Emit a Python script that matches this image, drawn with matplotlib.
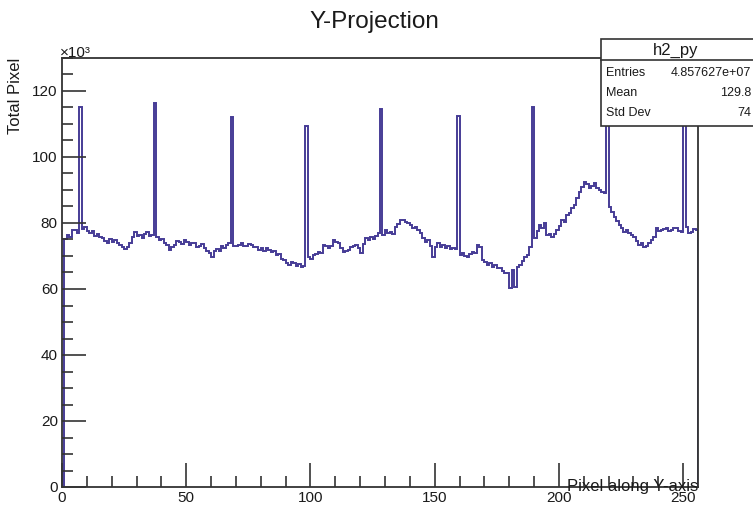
import numpy as np
import matplotlib
matplotlib.use("Agg")
import matplotlib.pyplot as plt
from matplotlib.patches import Rectangle
from matplotlib.ticker import MultipleLocator

plt.rcParams['font.family'] = ['Liberation Sans', 'DejaVu Sans']

# Y-projection of h2 (counts in units of 10^3), one value per pixel row
counts_k = [
    0.0, 75.0, 76.4, 75.8, 77.8, 78.0, 77.0, 115.0, 78.2, 78.7, 77.6, 77.0, 77.5, 76.2, 76.8, 75.7,
    75.4, 74.6, 74.0, 75.0, 74.3, 74.8, 73.9, 73.2, 72.6, 72.1, 72.7, 74.0, 75.8, 77.4, 76.2, 76.4,
    75.6, 76.8, 77.3, 76.1, 76.4, 116.5, 75.9, 74.8, 75.2, 73.9, 73.2, 71.8, 72.6, 73.3, 74.5, 74.3,
    73.6, 74.8, 74.1, 73.3, 73.9, 73.9, 72.8, 72.9, 73.5, 72.3, 71.6, 70.8, 69.8, 71.4, 72.0, 71.6,
    72.9, 72.4, 73.3, 73.8, 112.0, 73.0, 72.9, 73.4, 73.9, 73.1, 72.9, 73.6, 73.3, 72.6, 72.8, 71.8,
    72.3, 71.6, 72.4, 71.8, 71.1, 71.4, 70.3, 70.6, 69.2, 68.8, 67.9, 67.3, 68.2, 67.8, 67.1, 67.6,
    66.8, 66.9, 109.5, 69.8, 69.2, 70.3, 70.6, 71.3, 70.8, 73.3, 72.9, 72.3, 73.1, 74.8, 74.2, 73.9,
    72.4, 71.3, 71.6, 71.8, 72.6, 72.9, 73.4, 72.3, 70.8, 73.5, 75.4, 74.8, 75.9, 75.3, 76.2, 76.9,
    114.5, 76.4, 77.9, 77.0, 77.4, 76.6, 78.9, 79.8, 80.9, 81.0, 80.4, 80.0, 79.4, 78.6, 78.9, 77.8,
    76.9, 75.6, 74.3, 74.8, 72.9, 69.8, 72.6, 73.9, 72.8, 73.3, 72.4, 72.9, 72.0, 72.3, 72.0, 112.5,
    70.3, 70.8, 70.1, 69.8, 70.6, 71.3, 70.9, 73.3, 72.6, 68.8, 68.2, 67.3, 67.8, 66.8, 67.2, 66.3,
    66.3, 65.6, 64.9, 64.7, 60.3, 65.8, 60.5, 66.8, 67.3, 68.5, 69.8, 70.3, 72.8, 115.0, 75.4, 77.6,
    79.4, 78.6, 79.9, 76.4, 76.8, 75.9, 76.6, 77.9, 79.2, 80.9, 80.2, 82.4, 83.1, 84.4, 85.6, 87.5,
    89.5, 91.0, 92.5, 91.8, 90.5, 91.2, 92.0, 90.6, 90.0, 89.4, 89.0, 116.0, 84.9, 83.2, 81.9, 80.6,
    79.4, 78.6, 77.4, 77.8, 76.9, 76.3, 75.9, 74.6, 73.3, 73.8, 72.8, 73.1, 73.8, 74.9, 75.9, 78.4,
    77.6, 77.9, 78.2, 78.4, 77.5, 77.9, 78.6, 78.4, 77.6, 77.4, 118.0, 78.9, 77.0, 77.4, 78.2, 77.9,
]
bin_edges = np.arange(len(counts_k) + 1)

x_ticks = [0, 50, 100, 150, 200, 250]
y_ticks = [0, 20, 40, 60, 80, 100, 120]

stats_name = "h2_py"
stats_rows = [("Entries", "4.857627e+07"), ("Mean", "129.8"), ("Std Dev", "74")]

line_col = "#463c96"
frame_col = "#333333"
text_col = "#1a1a1a"

fig = plt.figure(figsize=(7.53, 5.08), dpi=100)
ax = fig.add_axes([62 / 753, 1 - 487 / 508, 636 / 753, 429 / 508])

ax.stairs(counts_k, bin_edges, baseline=0, color=line_col, linewidth=1.4)

ax.set_xlim(0, 256)
ax.set_ylim(0, 130)

ax.set_xticks(x_ticks)
ax.set_yticks(y_ticks)
ax.xaxis.set_minor_locator(MultipleLocator(10))
ax.yaxis.set_minor_locator(MultipleLocator(5))
ax.tick_params(which='both', direction='in', top=False, right=False,
               color=frame_col, width=1.2, labelsize=11, labelcolor=text_col)
ax.tick_params(which='major', length=17, pad=3)
ax.tick_params(which='minor', length=8)
for sp in ax.spines.values():
    sp.set_color(frame_col)
    sp.set_linewidth(1.3)

# ROOT-style axis titles
ax.text(1.0, 0.0, "Pixel along Y-axis", transform=ax.transAxes, ha='right', va='center',
        fontsize=12, color=text_col)
fig.text(16 / 753, 1 - 58 / 508, "Total Pixel", rotation=90, ha='center', va='top',
         fontsize=12, color=text_col)
fig.text(60 / 753, 1 - 57 / 508, "×10³", ha='left', va='baseline', fontsize=11, color=text_col)
fig.text(374 / 753, 1 - 22 / 508, "Y-Projection", ha='center', va='center',
         fontsize=17.5, color=text_col)

# Stats box
bx0, by0, bx1, by1 = 601 / 753, 1 - 126 / 508, 760 / 753, 1 - 39 / 508
box = Rectangle((bx0, by0), bx1 - bx0, by1 - by0, transform=fig.transFigure,
                facecolor='white', edgecolor=frame_col, linewidth=1.2, zorder=10)
fig.patches.append(box)
fig.add_artist(plt.Line2D([bx0, bx1], [1 - 60 / 508] * 2, transform=fig.transFigure,
                          color=frame_col, linewidth=1.2, zorder=11))
fig.text(676 / 753, 1 - 50 / 508, stats_name, ha='center', va='center', fontsize=12,
         color=text_col, zorder=12)
for i, (lab, val) in enumerate(stats_rows):
    yy = 1 - (73 + i * 20) / 508
    fig.text(606 / 753, yy, lab, ha='left', va='center', fontsize=9, color=text_col, zorder=12)
    fig.text(751 / 753, yy, val, ha='right', va='center', fontsize=9, color=text_col, zorder=12)

plt.savefig("out.png", dpi=100)
